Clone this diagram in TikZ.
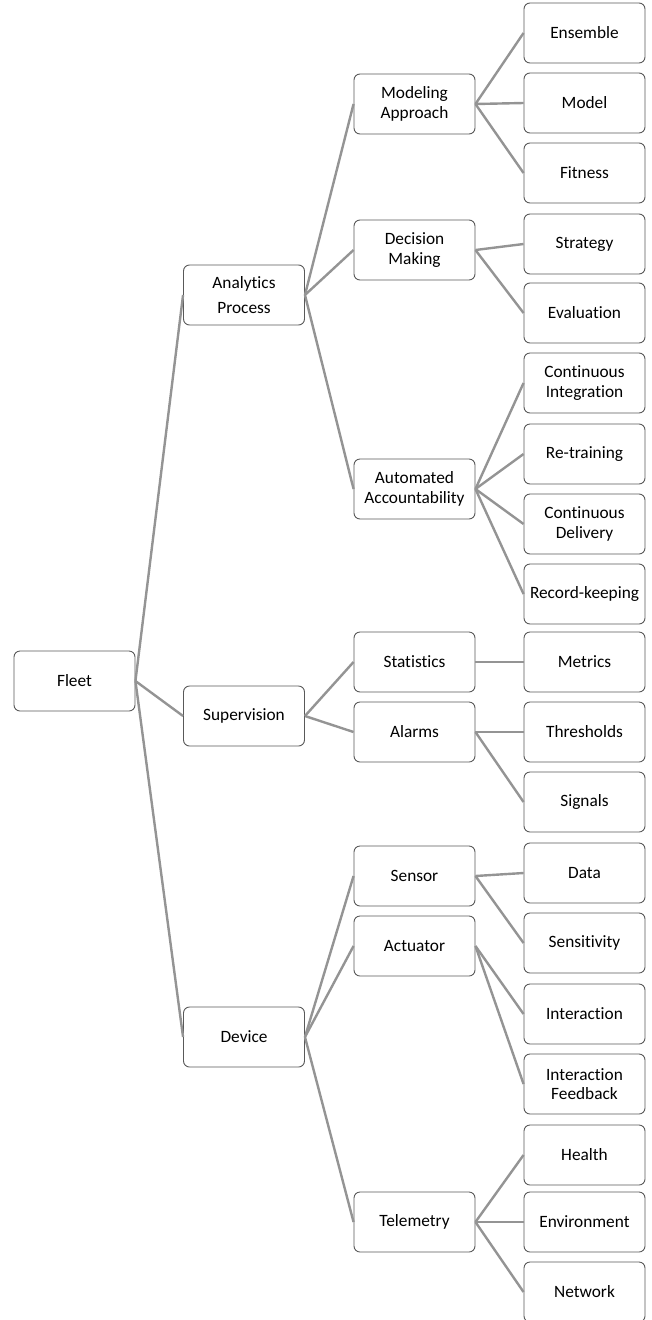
\documentclass[tikz,border=0pt]{standalone}
\usepackage{fontspec}
\setmainfont[RawFeature={-liga;-clig;-calt;-dlig}]{Carlito}
\usepackage{tikz}

\tikzset{
  box/.style={draw=black!65,line width=0.9pt,rounded corners=6pt,fill=white,
    minimum width=121pt,minimum height=60pt,inner sep=2pt,align=center,
    font=\fontsize{17.3}{19.5}\selectfont},
  link/.style={draw=black!42,line width=2.4pt}
}

\begin{document}
\begin{tikzpicture}[x=1pt,y=-1pt]
    \useasboundingbox (0,0) rectangle (652,1320);
    % root and first level
    \node[box] (fleet) at (74.5,681) {Fleet};
    \node[box] (analytics) at (244,295) {Analytics\\[6pt]Process};
    \node[box] (supervision) at (244,716) {Supervision};
    \node[box] (device) at (244,1037) {Device};
    % second level
    \node[box] (modeling) at (414.5,104) {Modeling\\Approach};
    \node[box] (decision) at (414.5,250) {Decision\\Making};
    \node[box] (automated) at (414.5,489) {Automated\\Accountability};
    \node[box] (statistics) at (414.5,662) {Statistics};
    \node[box] (alarms) at (414.5,732) {Alarms};
    \node[box] (sensor) at (414.5,876) {Sensor};
    \node[box] (actuator) at (414.5,946) {Actuator};
    \node[box] (telemetry) at (414.5,1222) {Telemetry};
    % leaves
    \node[box] (ensemble) at (584.5,33) {Ensemble};
    \node[box] (model) at (584.5,103) {Model};
    \node[box] (fitness) at (584.5,173) {Fitness};
    \node[box] (strategy) at (584.5,244) {Strategy};
    \node[box] (evaluation) at (584.5,313) {Evaluation};
    \node[box] (contint) at (584.5,383) {Continuous\\Integration};
    \node[box] (retraining) at (584.5,454) {Re-training};
    \node[box] (contdel) at (584.5,524) {Continuous\\Delivery};
    \node[box] (record) at (584.5,594) {Record-keeping};
    \node[box] (metrics) at (584.5,662) {Metrics};
    \node[box] (thresholds) at (584.5,732) {Thresholds};
    \node[box] (signals) at (584.5,802) {Signals};
    \node[box] (data) at (584.5,873) {Data};
    \node[box] (sensitivity) at (584.5,943) {Sensitivity};
    \node[box] (interaction) at (584.5,1014) {Interaction};
    \node[box] (feedback) at (584.5,1084) {Interaction\\Feedback};
    \node[box] (health) at (584.5,1155) {Health};
    \node[box] (environment) at (584.5,1222) {Environment};
    \node[box] (network) at (584.5,1292) {Network};
    % connectors
    \foreach \a/\b in {fleet/analytics,fleet/supervision,fleet/device,
        analytics/modeling,analytics/decision,analytics/automated,
        supervision/statistics,supervision/alarms,
        device/sensor,device/actuator,device/telemetry,
        modeling/ensemble,modeling/model,modeling/fitness,
        decision/strategy,decision/evaluation,
        automated/contint,automated/retraining,automated/contdel,automated/record,
        statistics/metrics,alarms/thresholds,alarms/signals,
        sensor/data,sensor/sensitivity,actuator/interaction,actuator/feedback,
        telemetry/health,telemetry/environment,telemetry/network}
      \draw[link] (\a.east) -- (\b.west);
\end{tikzpicture}
\end{document}
